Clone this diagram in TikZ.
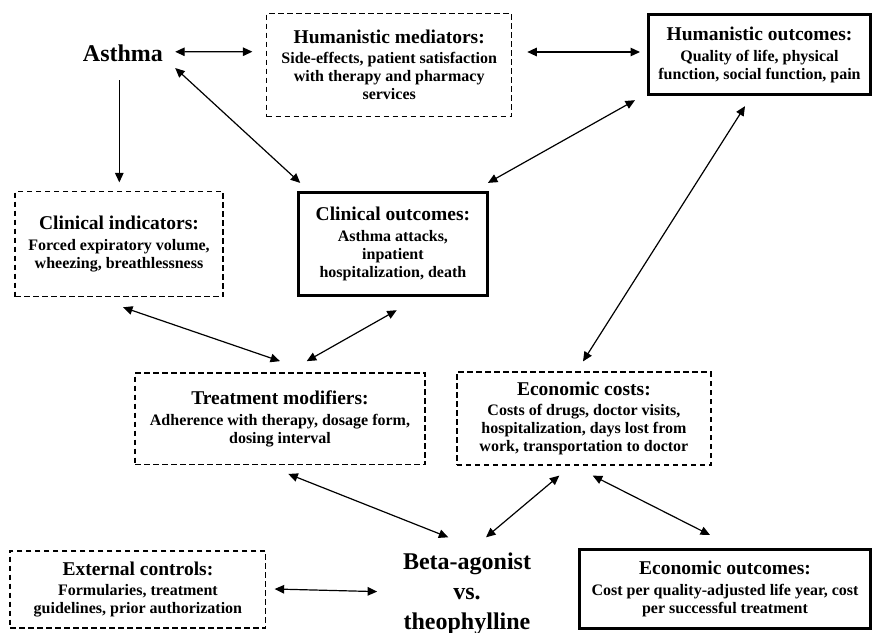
\documentclass[tikz,border=0pt]{standalone}
\usepackage{fontspec}
\setmainfont{Liberation Serif}
\usetikzlibrary{arrows.meta,calc}
\newcommand{\dgbody}{\fontsize{16}{18}\selectfont\bfseries}
\newcommand{\dgtitle}[1]{{\fontsize{19.5}{20}\selectfont #1}}
\newcommand{\dgbig}{\fontsize{24}{30}\selectfont\bfseries}
\begin{document}
\begin{tikzpicture}[x=1pt,y=-1pt,
  box/.style={draw, rectangle, inner sep=0pt, align=center, font=\dgbody},
  soft/.style={box, line width=1.2pt, dash pattern=on 5.5pt off 3.5pt},
  hard/.style={box, line width=3pt},
  tip/.tip={Triangle[length=9.5pt,width=8.5pt]},
  link/.style={line width=1.2pt, tip-tip},
  oneway/.style={line width=1.2pt, -tip},
  big/.style={inner sep=0pt, font=\dgbig, align=center}]
\useasboundingbox (0,0) rectangle (874,632);

% free-standing labels
\node[big, anchor=base] (asthma) at (123,61) {Asthma};
\node[big, anchor=north] (drug) at (467,553) {Beta-agonist\\vs.\\theophylline};

% mediators, modifiers and costs (dashed)
\node[soft, minimum width=245pt, minimum height=103pt] (hm) at (389.2,65)
  {\dgtitle{Humanistic mediators:}\\[2.5pt]Side-effects, patient satisfaction\\with therapy and pharmacy\\services};
\node[soft, minimum width=208pt, minimum height=105pt] (ci) at (119,244.2)
  {\dgtitle{Clinical indicators:}\\[2.5pt]Forced expiratory volume,\\wheezing, breathlessness};
\node[soft, minimum width=290pt, minimum height=91.5pt] (tm) at (280,418.8)
  {\dgtitle{Treatment modifiers:}\\[2.5pt]Adherence with therapy, dosage form,\\dosing interval};
\node[soft, minimum width=254pt, minimum height=93pt] (ec) at (583.9,418.5)
  {\dgtitle{Economic costs:}\\[2.5pt]Costs of drugs, doctor visits,\\hospitalization, days lost from\\work, transportation to doctor};
\node[soft, minimum width=255.7pt, minimum height=77pt] (ex) at (137.9,589.5)
  {\dgtitle{External controls:}\\[2.5pt]Formularies, treatment\\guidelines, prior authorization};

% outcomes (heavy frame)
\node[hard, minimum width=222pt, minimum height=80pt] (ho) at (759.5,54.7)
  {\dgtitle{Humanistic outcomes:}\\[2.5pt]Quality of life, physical\\function, social function, pain};
\node[hard, minimum width=189pt, minimum height=103pt] (co) at (392.9,243.9)
  {\dgtitle{Clinical outcomes:}\\[2.5pt]Asthma attacks,\\inpatient\\hospitalization, death};
\node[hard, minimum width=291pt, minimum height=79pt] (eo) at (725,589)
  {\dgtitle{Economic outcomes:}\\[2.5pt]Cost per quality-adjusted life year, cost\\per successful treatment};

% connectors
\draw[link] ($(asthma.east)+(12,-1)$) -- ($(hm.west)+(-13.7,-13.3)$);
\draw[link] ($(hm.east)+(15,-13)$) -- ($(ho.west)+(-7,-2.7)$);
\draw[oneway] ($(asthma.south)+(-3.7,19)$) -- ($(ci.north)+(0.3,-8.7)$);
\draw[link] ($(asthma.east)+(12,15.2)$) -- ($(co.north west)+(3.3,-8)$);
\draw[link] ($(co.north east)+(-1,-8)$) -- ($(ho.south west)+(-12,4)$);
\draw[link] ($(ho.south)+(-14.5,10)$) -- ($(ec.north)+(-0.9,-10)$);
\draw[link] ($(ci.south)+(4,10)$) -- ($(tm.north)+(0,-11.3)$);
\draw[link] ($(co.south)+(3.8,13.3)$) -- ($(tm.north)+(26.7,-11.3)$);
\draw[link] ($(tm.south)+(8.3,8.8)$) -- ($(drug.north)+(-18.7,-15.7)$);
\draw[link] ($(ec.south)+(-24.6,10)$) -- ($(drug.north)+(19,-15.7)$);
\draw[link] ($(ec.south)+(8.8,10)$) -- ($(eo.north)+(-15,-13)$);
\draw[link] ($(ex.east)+(8.3,-0.5)$) -- ($(drug.west)+(-25.7,-2.5)$);
\end{tikzpicture}
\end{document}
